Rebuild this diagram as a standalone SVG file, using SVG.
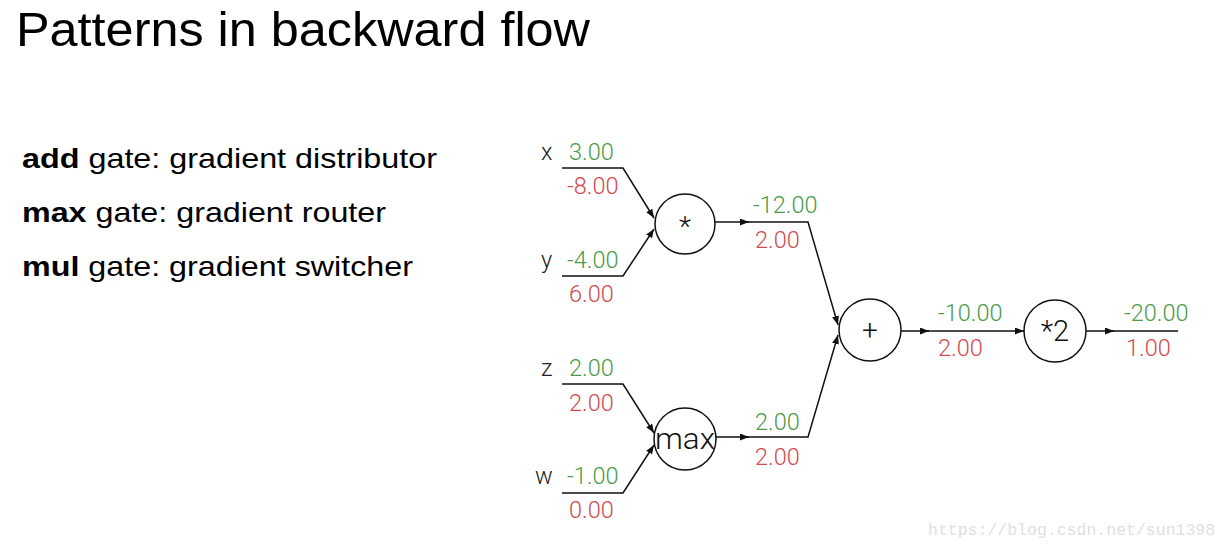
<svg xmlns="http://www.w3.org/2000/svg" width="1228" height="550" viewBox="0 0 1228 550">
<defs>
<marker id="ah" viewBox="0 0 9 7" refX="9" refY="3.5" markerWidth="9" markerHeight="7" markerUnits="userSpaceOnUse" orient="auto">
<path d="M0,0 L9,3.5 L0,7 Z" fill="#111"/>
</marker>
</defs>
<style>
.t{font-family:"Liberation Sans",Arial,sans-serif;fill:#000}
.v{font-family:Roboto,"Liberation Sans",sans-serif;font-weight:300;font-size:23.5px}
.g{fill:#4a9a4a}
.r{fill:#d24a50}
.lb{font-family:Roboto,"Liberation Sans",sans-serif;font-weight:300;font-size:23.5px;fill:#222}
.n{fill:#fff;stroke:#111;stroke-width:1.5}
.nt{font-family:Roboto,"Liberation Sans",sans-serif;font-weight:300;fill:#111;text-anchor:middle}
.e{fill:none;stroke:#111;stroke-width:1.5}
.a{marker-end:url(#ah)}
</style>
<rect width="1228" height="550" fill="#fff"/>
<text class="t" x="16" y="46" font-size="49" textLength="574" lengthAdjust="spacingAndGlyphs">Patterns in backward flow</text>
<text class="t" x="22" y="168" font-size="28" textLength="415" lengthAdjust="spacingAndGlyphs"><tspan font-weight="bold">add</tspan> gate: gradient distributor</text>
<text class="t" x="22" y="222" font-size="28" textLength="364" lengthAdjust="spacingAndGlyphs"><tspan font-weight="bold">max</tspan> gate: gradient router</text>
<text class="t" x="22" y="276" font-size="28" textLength="391" lengthAdjust="spacingAndGlyphs"><tspan font-weight="bold">mul</tspan> gate: gradient switcher</text>

<g id="connectors">
<polyline class="e a" points="562,168 623,168 654,218"/>
<polyline class="e a" points="562,276 623,276 654,229"/>
<polyline class="e a" points="562,384 623,384 654,433"/>
<polyline class="e a" points="562,493 623,493 654,445"/>
<line class="e a" x1="715" y1="222" x2="749" y2="222"/>
<polyline class="e a" points="745,222 808,222 838,325"/>
<line class="e a" x1="715" y1="437" x2="749" y2="437"/>
<polyline class="e a" points="745,437 808,437 838,335"/>
<line class="e a" x1="901" y1="331" x2="929" y2="331"/>
<line class="e a" x1="925" y1="331" x2="1024" y2="331"/>
<line class="e a" x1="1086" y1="331" x2="1114" y2="331"/>
<line class="e" x1="1110" y1="331" x2="1178" y2="331"/>
</g>

<g id="labels">
<text class="lb" x="541" y="160">x</text>
<text class="v g" x="569" y="160">3.00</text>
<text class="v r" x="567" y="194">-8.00</text>
<text class="lb" x="541" y="268">y</text>
<text class="v g" x="567" y="268">-4.00</text>
<text class="v r" x="569" y="302">6.00</text>
<text class="lb" x="541" y="376">z</text>
<text class="v g" x="569" y="376">2.00</text>
<text class="v r" x="569" y="411">2.00</text>
<text class="lb" x="535" y="484">w</text>
<text class="v g" x="567" y="484">-1.00</text>
<text class="v r" x="569" y="518">0.00</text>
<text class="v g" x="753" y="213">-12.00</text>
<text class="v r" x="755" y="248">2.00</text>
<text class="v g" x="755" y="430">2.00</text>
<text class="v r" x="755" y="465">2.00</text>
<text class="v g" x="938" y="321">-10.00</text>
<text class="v r" x="938" y="356">2.00</text>
<text class="v g" x="1124" y="321">-20.00</text>
<text class="v r" x="1126" y="356">1.00</text>
</g>

<g id="node-mul">
<circle class="n" cx="685" cy="224" r="30"/>
<text class="nt" x="685" y="236" font-size="28">*</text>
</g>
<g id="node-max">
<circle class="n" cx="685" cy="439" r="31"/>
<text class="nt" x="685" y="449" font-size="29" textLength="60" lengthAdjust="spacingAndGlyphs">max</text>
</g>
<g id="node-add">
<circle class="n" cx="870" cy="330" r="31"/>
<text class="nt" x="870" y="340" font-size="28">+</text>
</g>
<g id="node-times2">
<circle class="n" cx="1055" cy="331" r="31"/>
<text class="nt" x="1055" y="341" font-size="29">*2</text>
</g>
<text x="928" y="535" font-family="'Liberation Mono',monospace" font-size="16.5" fill="#e0e0e0">https://blog.csdn.net/sun1398</text>
</svg>
